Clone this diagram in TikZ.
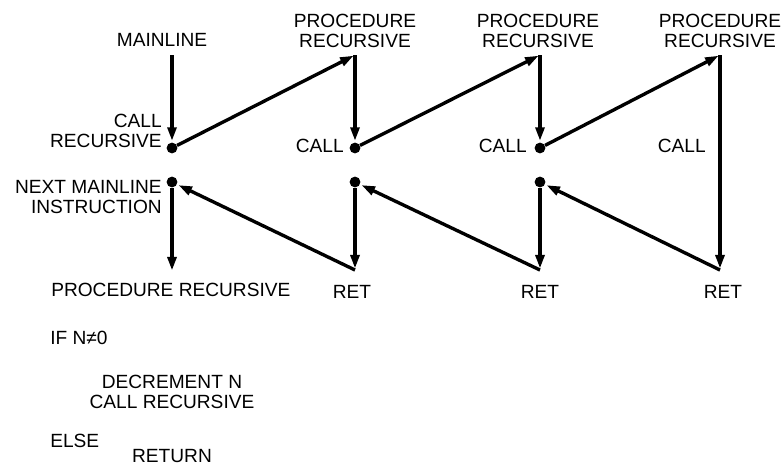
\documentclass[tikz,border=0pt]{standalone}
\usepackage{fontspec}
\setmainfont{Liberation Sans}
\usetikzlibrary{arrows.meta,positioning}
\tikzset{
  lbl/.style={inner sep=0pt, align=center, font=\fontsize{13.6}{14.6}\selectfont},
  lblr/.style={lbl, align=right, anchor=east},
  lbll/.style={lbl, align=left, anchor=west},
  arr/.style={-{Triangle[length=3.4mm, width=2.2mm]}, line width=2.4pt, shorten >=1pt},
  calldot/.style={circle, fill=black, inner sep=0pt, minimum size=2.7mm}
}
\begin{document}
\begin{tikzpicture}[x=0.025cm,y=-0.025cm]
        \useasboundingbox (0,0) rectangle (784,467);
        % call chain points
        \coordinate (top0) at (172,55);
        \node[calldot] (call0) at (172,148) {};
        \node[calldot] (back0) at (172,182) {};
        \coordinate (end0) at (172,272);
        \coordinate (top1) at (355,55);
        \node[calldot] (call1) at (355,148) {};
        \node[calldot] (back1) at (355,182) {};
        \coordinate (ret1) at (355,270);
        \coordinate (top2) at (540,55);
        \node[calldot] (call2) at (540,148) {};
        \node[calldot] (back2) at (540,182) {};
        \coordinate (ret2) at (540,270);
        \coordinate (top3) at (720,55);
        \coordinate (ret3) at (720,270);
        % labels
        \node[lbl] (mainline) at (162,40) {MAINLINE};
        \node[lbl] (proc1) at (355,31) {PROCEDURE\\RECURSIVE};
        \node[lbl] (proc2) at (538,31) {PROCEDURE\\RECURSIVE};
        \node[lbl] (proc3) at (720,31) {PROCEDURE\\RECURSIVE};
        \node[lblr] (callrec) at (162,131) {CALL\\RECURSIVE};
        \node[lblr] (callA) at (344,146) {CALL};
        \node[lblr] (callB) at (527,146) {CALL};
        \node[lblr] (callC) at (706,146) {CALL};
        \node[lblr] (nextmain) at (162,197) {NEXT MAINLINE\\INSTRUCTION};
        \node[lbl] (retA) at (352,292) {RET};
        \node[lbl] (retB) at (540,292) {RET};
        \node[lbl] (retC) at (723,292) {RET};
        % procedure listing
        \node[lbll] (prochead) at (51,290) {PROCEDURE RECURSIVE};
        \node[lbll] (ifline) at (50,338) {IF N≠0};
        \node[lbl] (decline) at (172,382) {DECREMENT N};
        \node[lbl] (callline) at (172,402) {CALL RECURSIVE};
        \node[lbll] (elseline) at (50,441) {ELSE};
        \node[lbl] (retline) at (172,456) {RETURN};
        % arrows
        \foreach \a/\b in {top0/call0,call0/top1,top1/call1,call1/top2,top2/call2,
            call2/top3,top3/ret3,ret3/back2,back2/ret2,ret2/back1,back1/ret1,
            ret1/back0,back0/end0}
          \draw[arr] (\a) -- (\b);
      \end{tikzpicture}
\end{document}
